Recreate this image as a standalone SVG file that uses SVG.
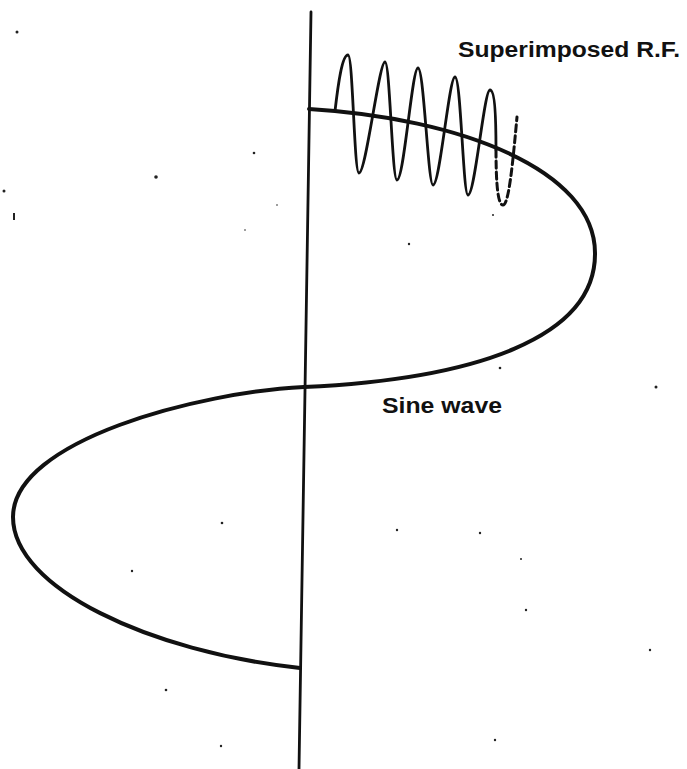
<svg xmlns="http://www.w3.org/2000/svg" width="687" height="769" viewBox="0 0 687 769">
<style>
.ink{fill:none;stroke:#111;stroke-linecap:round;stroke-linejoin:round}
.lbl{font-family:"Liberation Sans",Arial,sans-serif;font-size:22px;font-weight:bold;fill:#111}
.dot{fill:#222}
</style>
<rect width="687" height="769" fill="#fff"/>
<g id="axis"><line class="ink" x1="311" y1="12" x2="299" y2="769" stroke-width="2.8"/></g>
<g id="sine-wave"><path class="ink" stroke-width="4" d="M309,109 C460,118 595,170 595,253 C596,338 475,379 304,387 C200,392 13,440 13,517 C13,588 150,652 300,668"/></g>
<g id="rf-wave">
<path class="ink" stroke-width="2.8" d="M335,111 C338,85 342,55 348,55 C353,55 354,173 359,173 C366,173 379,62 385,62 C390,62 392,180 397,180 C404,180 412,68 418,68 C424,68 428,185 433,185 C440,185 449,77 455,77 C461,77 463,195 468,195 C475,195 484,90 490,90 C495,90 496,120 496,150"/>
<path class="ink" stroke-width="3" stroke-dasharray="7 4" stroke-linecap="butt" d="M496,150 C496,185 498,205 503,205 C509,205 513,160 517,117"/>
</g>
<g id="labels">
<text class="lbl" x="458" y="57" textLength="222" lengthAdjust="spacingAndGlyphs">Superimposed R.F.</text>
<text class="lbl" x="382" y="413" textLength="120" lengthAdjust="spacingAndGlyphs">Sine wave</text>
</g>
<g id="specks">
<circle class="dot" cx="17" cy="32" r="1.5"/>
<circle class="dot" cx="156" cy="177" r="1.8"/>
<circle class="dot" cx="254" cy="153" r="1.3"/>
<circle class="dot" cx="4" cy="191" r="1.5"/>
<rect class="dot" x="13" y="213" width="2" height="7"/>
<circle class="dot" cx="277" cy="205" r="0.8"/>
<circle class="dot" cx="245" cy="230" r="0.8"/>
<circle class="dot" cx="493" cy="215" r="1"/>
<circle class="dot" cx="409" cy="244" r="1.2"/>
<circle class="dot" cx="500" cy="368" r="1.3"/>
<circle class="dot" cx="656" cy="387" r="1.5"/>
<circle class="dot" cx="222" cy="523" r="1.3"/>
<circle class="dot" cx="132" cy="571" r="1.2"/>
<circle class="dot" cx="397" cy="530" r="1.2"/>
<circle class="dot" cx="480" cy="533" r="1.2"/>
<circle class="dot" cx="521" cy="559" r="1"/>
<circle class="dot" cx="526" cy="610" r="1.2"/>
<circle class="dot" cx="650" cy="650" r="1.2"/>
<circle class="dot" cx="166" cy="690" r="1.3"/>
<circle class="dot" cx="221" cy="746" r="1.2"/>
<circle class="dot" cx="495" cy="740" r="1.2"/>
</g>
</svg>
